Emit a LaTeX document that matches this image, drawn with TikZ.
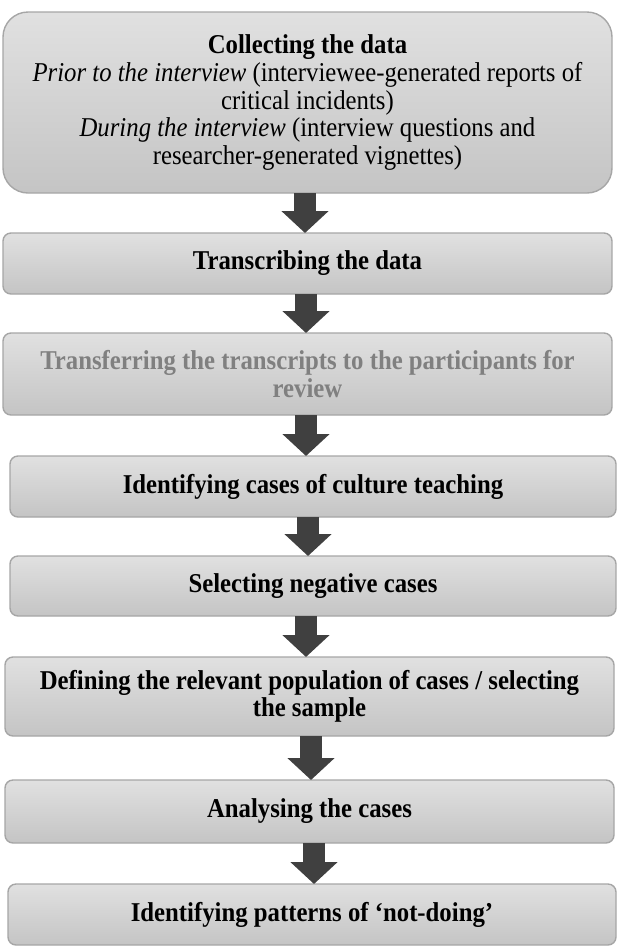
\documentclass[tikz,border=0pt]{standalone}
\usepackage{fontspec}
\setmainfont[FakeStretch=0.91]{Liberation Serif}
\usetikzlibrary{arrows.meta,calc}

\begin{document}
\begin{tikzpicture}[x=0.5pt, y=-0.5pt,
  caja/.style={draw=gray!70, line width=0.7pt, top color=gray!24, bottom color=gray!46,
    rounded corners=4pt, inner sep=0pt, outer sep=0pt, minimum height=#1,
    minimum width=304.5pt, align=center, font=\fontsize{13.6}{13.8}\selectfont},
  caja/.default=30.5pt,
  flecha/.style={draw=black!75, line width=11pt, -{Triangle[width=23pt, length=11pt]}}]
\useasboundingbox (0,0) rectangle (624,950);
% Paso 1
\node[caja=90.5pt, rounded corners=12.5pt] (recoger) at (307.5,102.5)
  {\textbf{Collecting the data}\\
   \textit{Prior to the interview} (interviewee-generated reports of\\
   critical incidents)\\
   \textit{During the interview} (interview questions and\\
   researcher-generated vignettes)};
% Paso 2
\node[caja] (transcribir) at (307.5,263.5) {\textbf{Transcribing the data}};
% Paso 3
\node[caja=41pt, text=gray] (transferir) at (307.5,374)
  {\textbf{Transferring the transcripts to the participants for}\\ \textbf{review}};
% Paso 4
\node[caja, minimum width=303pt] (identificar) at (313,486.5) {\textbf{Identifying cases of culture teaching}};
% Paso 5
\node[caja=30pt, minimum width=303pt] (seleccionar) at (313,586) {\textbf{Selecting negative cases}};
% Paso 6
\node[caja=39.5pt] (definir) at (309.5,696.5)
  {\textbf{Defining the relevant population of cases / selecting}\\ \textbf{the sample}};
% Paso 7
\node[caja=31.5pt] (analizar) at (309.5,811.5) {\textbf{Analysing the cases}};
% Paso 8
\node[caja, minimum width=304pt] (patrones) at (312,914.5) {\textbf{Identifying patterns of ‘not-doing’}};
% Flechas
\draw[flecha] ($(recoger.south)+(-2.5,0)$) -- ($(recoger.south |- transcribir.north)+(-2.5,0)$);
\draw[flecha] ($(transcribir.south)+(-1.5,0)$) -- ($(transcribir.south |- transferir.north)+(-1.5,0)$);
\draw[flecha] ($(transferir.south)+(-1.5,0)$) -- ($(transferir.south |- identificar.north)+(-1.5,0)$);
\draw[flecha] ($(identificar.south)+(-5,0)$) -- ($(identificar.south |- seleccionar.north)+(-5,0)$);
\draw[flecha] ($(seleccionar.south)+(-7,0)$) -- ($(seleccionar.south |- definir.north)+(-7,0)$);
\draw[flecha] ($(definir.south)+(1.5,0)$) -- ($(definir.south |- analizar.north)+(1.5,0)$);
\draw[flecha] ($(analizar.south)+(4.5,0)$) -- ($(analizar.south |- patrones.north)+(4.5,0)$);
\end{tikzpicture}
\end{document}
